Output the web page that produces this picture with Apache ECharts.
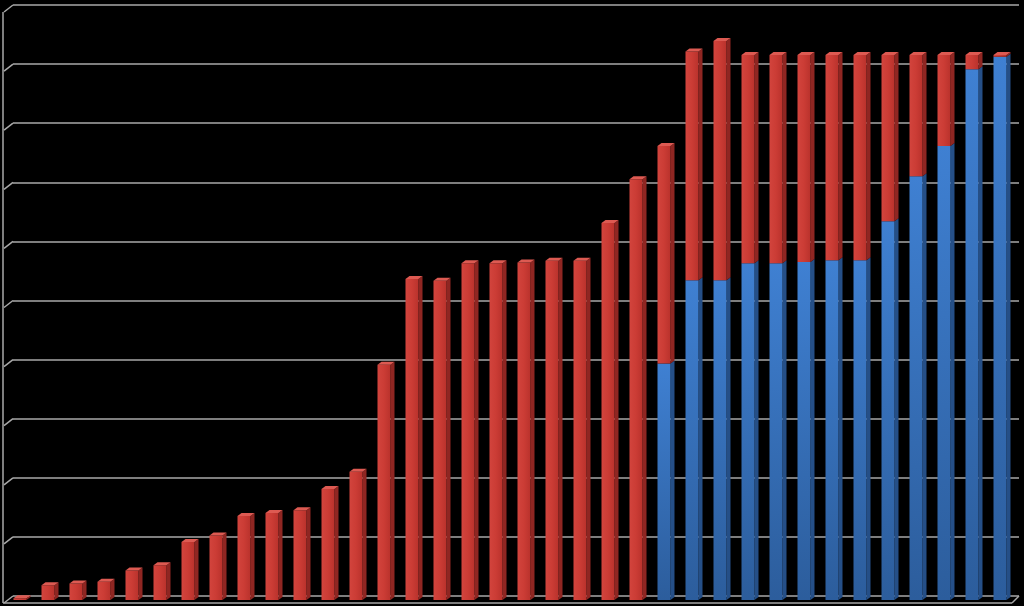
<!DOCTYPE html>
<html>
<head>
<meta charset="utf-8">
<script src="https://cdn.jsdelivr.net/npm/echarts@6/dist/echarts.min.js"></script>
<style>
html,body{margin:0;padding:0;background:#000;}
#chart{width:1024px;height:606px;}
</style>
</head>
<body>
<div id="chart"></div>
<script>
const categories = ['1','2','3','4','5','6','7','8','9','10','11','12','13','14','15','16','17','18','19','20','21','22','23','24','25','26','27','28','29','30','31','32','33','34','35','36'];
const blueValues = [0,0,0,0,0,0,0,0,0,0,0,0,0,0,0,0,0,0,0,0,0,0,0,40.0,54.1,54.1,57.0,57.0,57.2,57.5,57.5,64.1,71.7,76.8,89.8,91.9];
const redValues = [0.3,2.5,2.8,3.1,5.0,5.9,9.8,10.9,14.2,14.7,15.2,18.8,21.7,39.8,54.3,54.0,57.0,57.0,57.1,57.4,57.4,63.8,71.2,36.8,38.7,40.5,35.2,35.2,35.0,34.7,34.7,28.1,20.5,15.4,2.4,0.3];
const yTicks = [0,10,20,30,40,50,60,70,80,90,100];

const GRID_COLOR = '#a9a9a9';
const HALF = 6.5, DX = 4, DY = 3;

function makeRender(front, side, top, hasAbove) {
  return function (params, api) {
    const i = api.value(0);
    const b = api.value(1), t = api.value(2);
    if (t - b <= 0) return null;
    const p0 = api.coord([i, b]);
    const p1 = api.coord([i, t]);
    const cx = p0[0], yb = p0[1], yt = p1[1];
    const children = [
      {type:'polygon', shape:{points:[[cx+HALF,yt],[cx+HALF+DX,yt-DY],[cx+HALF+DX,yb-DY],[cx+HALF,yb]]}, style:{fill:side}},
      {type:'rect', shape:{x:cx-HALF, y:yt, width:HALF*2, height:Math.max(yb-yt,0.5)}, style:{fill:front}}
    ];
    if (!hasAbove[i]) {
      children.push({type:'polygon', shape:{points:[[cx-HALF,yt],[cx-HALF+DX,yt-DY],[cx+HALF+DX,yt-DY],[cx+HALF,yt]]}, style:{fill:top}});
    }
    return {type:'group', children};
  };
}

const blueData = categories.map((c,i)=>[i, 0, blueValues[i]]);
const redData = categories.map((c,i)=>[i, blueValues[i], blueValues[i]+redValues[i]]);
const blueHasAbove = redValues.map(v => v > 0);
const redHasAbove = redValues.map(() => false);

const redFront = new echarts.graphic.LinearGradient(0,0,1,0,[{offset:0,color:'#d2443d'},{offset:0.5,color:'#cb3c35'},{offset:1,color:'#b9322c'}]);
const blueFront = new echarts.graphic.LinearGradient(0,0,0,1,[{offset:0,color:'#3f80d2'},{offset:1,color:'#2c5d9c'}]);

const chart = echarts.init(document.getElementById('chart'), null, {renderer:'canvas'});
chart.setOption({
  backgroundColor:'#000',
  animation:false,
  grid:[
    {left:13, right:5, top:5, bottom:10},
    {left:6, right:10, top:9, bottom:6}
  ],
  xAxis:[
    {gridIndex:0, type:'category', data:categories, show:false},
    {gridIndex:1, type:'category', data:categories, show:false}
  ],
  yAxis:[
    {gridIndex:0, type:'value', min:0, max:100, interval:10, axisLine:{show:false}, axisTick:{show:false}, axisLabel:{show:false},
     splitLine:{show:true, lineStyle:{color:GRID_COLOR, width:1.5}}},
    {gridIndex:1, type:'value', min:0, max:100, interval:10, show:false, splitLine:{show:false}}
  ],
  series:[
    {type:'custom', xAxisIndex:1, yAxisIndex:1, renderItem:makeRender(blueFront,'#254f87','#5a95dc',blueHasAbove), data:blueData, encode:{x:0,y:[1,2]}},
    {type:'custom', xAxisIndex:1, yAxisIndex:1, renderItem:makeRender(redFront,'#8f2622','#dd5a52',redHasAbove), data:redData, encode:{x:0,y:[1,2]}}
  ]
});

// side wall and floor edges, following the back-wall axis ticks
const lines = [];
const lineStyle = {stroke:GRID_COLOR, lineWidth:1.5};
const xBackL = chart.convertToPixel({gridIndex:0}, [0,0]) ? 13 : 13;
const xBackR = 1024 - 5;
const offX = 9, offY = 7;
yTicks.forEach(v => {
  const y = chart.convertToPixel({yAxisIndex:0}, v);
  lines.push({type:'line', shape:{x1:xBackL, y1:y, x2:xBackL-offX, y2:y+offY}, style:lineStyle, silent:true});
});
const yTop = chart.convertToPixel({yAxisIndex:0}, 100);
const yFloor = chart.convertToPixel({yAxisIndex:0}, 0);
lines.push({type:'line', shape:{x1:xBackL-offX-1, y1:yTop+offY, x2:xBackL-offX-1, y2:yFloor+offY}, style:lineStyle, silent:true});
lines.push({type:'line', shape:{x1:xBackL-offX-1, y1:yFloor+offY, x2:xBackR-offX+2, y2:yFloor+offY}, style:lineStyle, silent:true});
lines.push({type:'line', shape:{x1:xBackR, y1:yFloor, x2:xBackR-offX+2, y2:yFloor+offY}, style:lineStyle, silent:true});
chart.setOption({graphic:lines.map(l => Object.assign({z:-1}, l))});
</script>
</body>
</html>
